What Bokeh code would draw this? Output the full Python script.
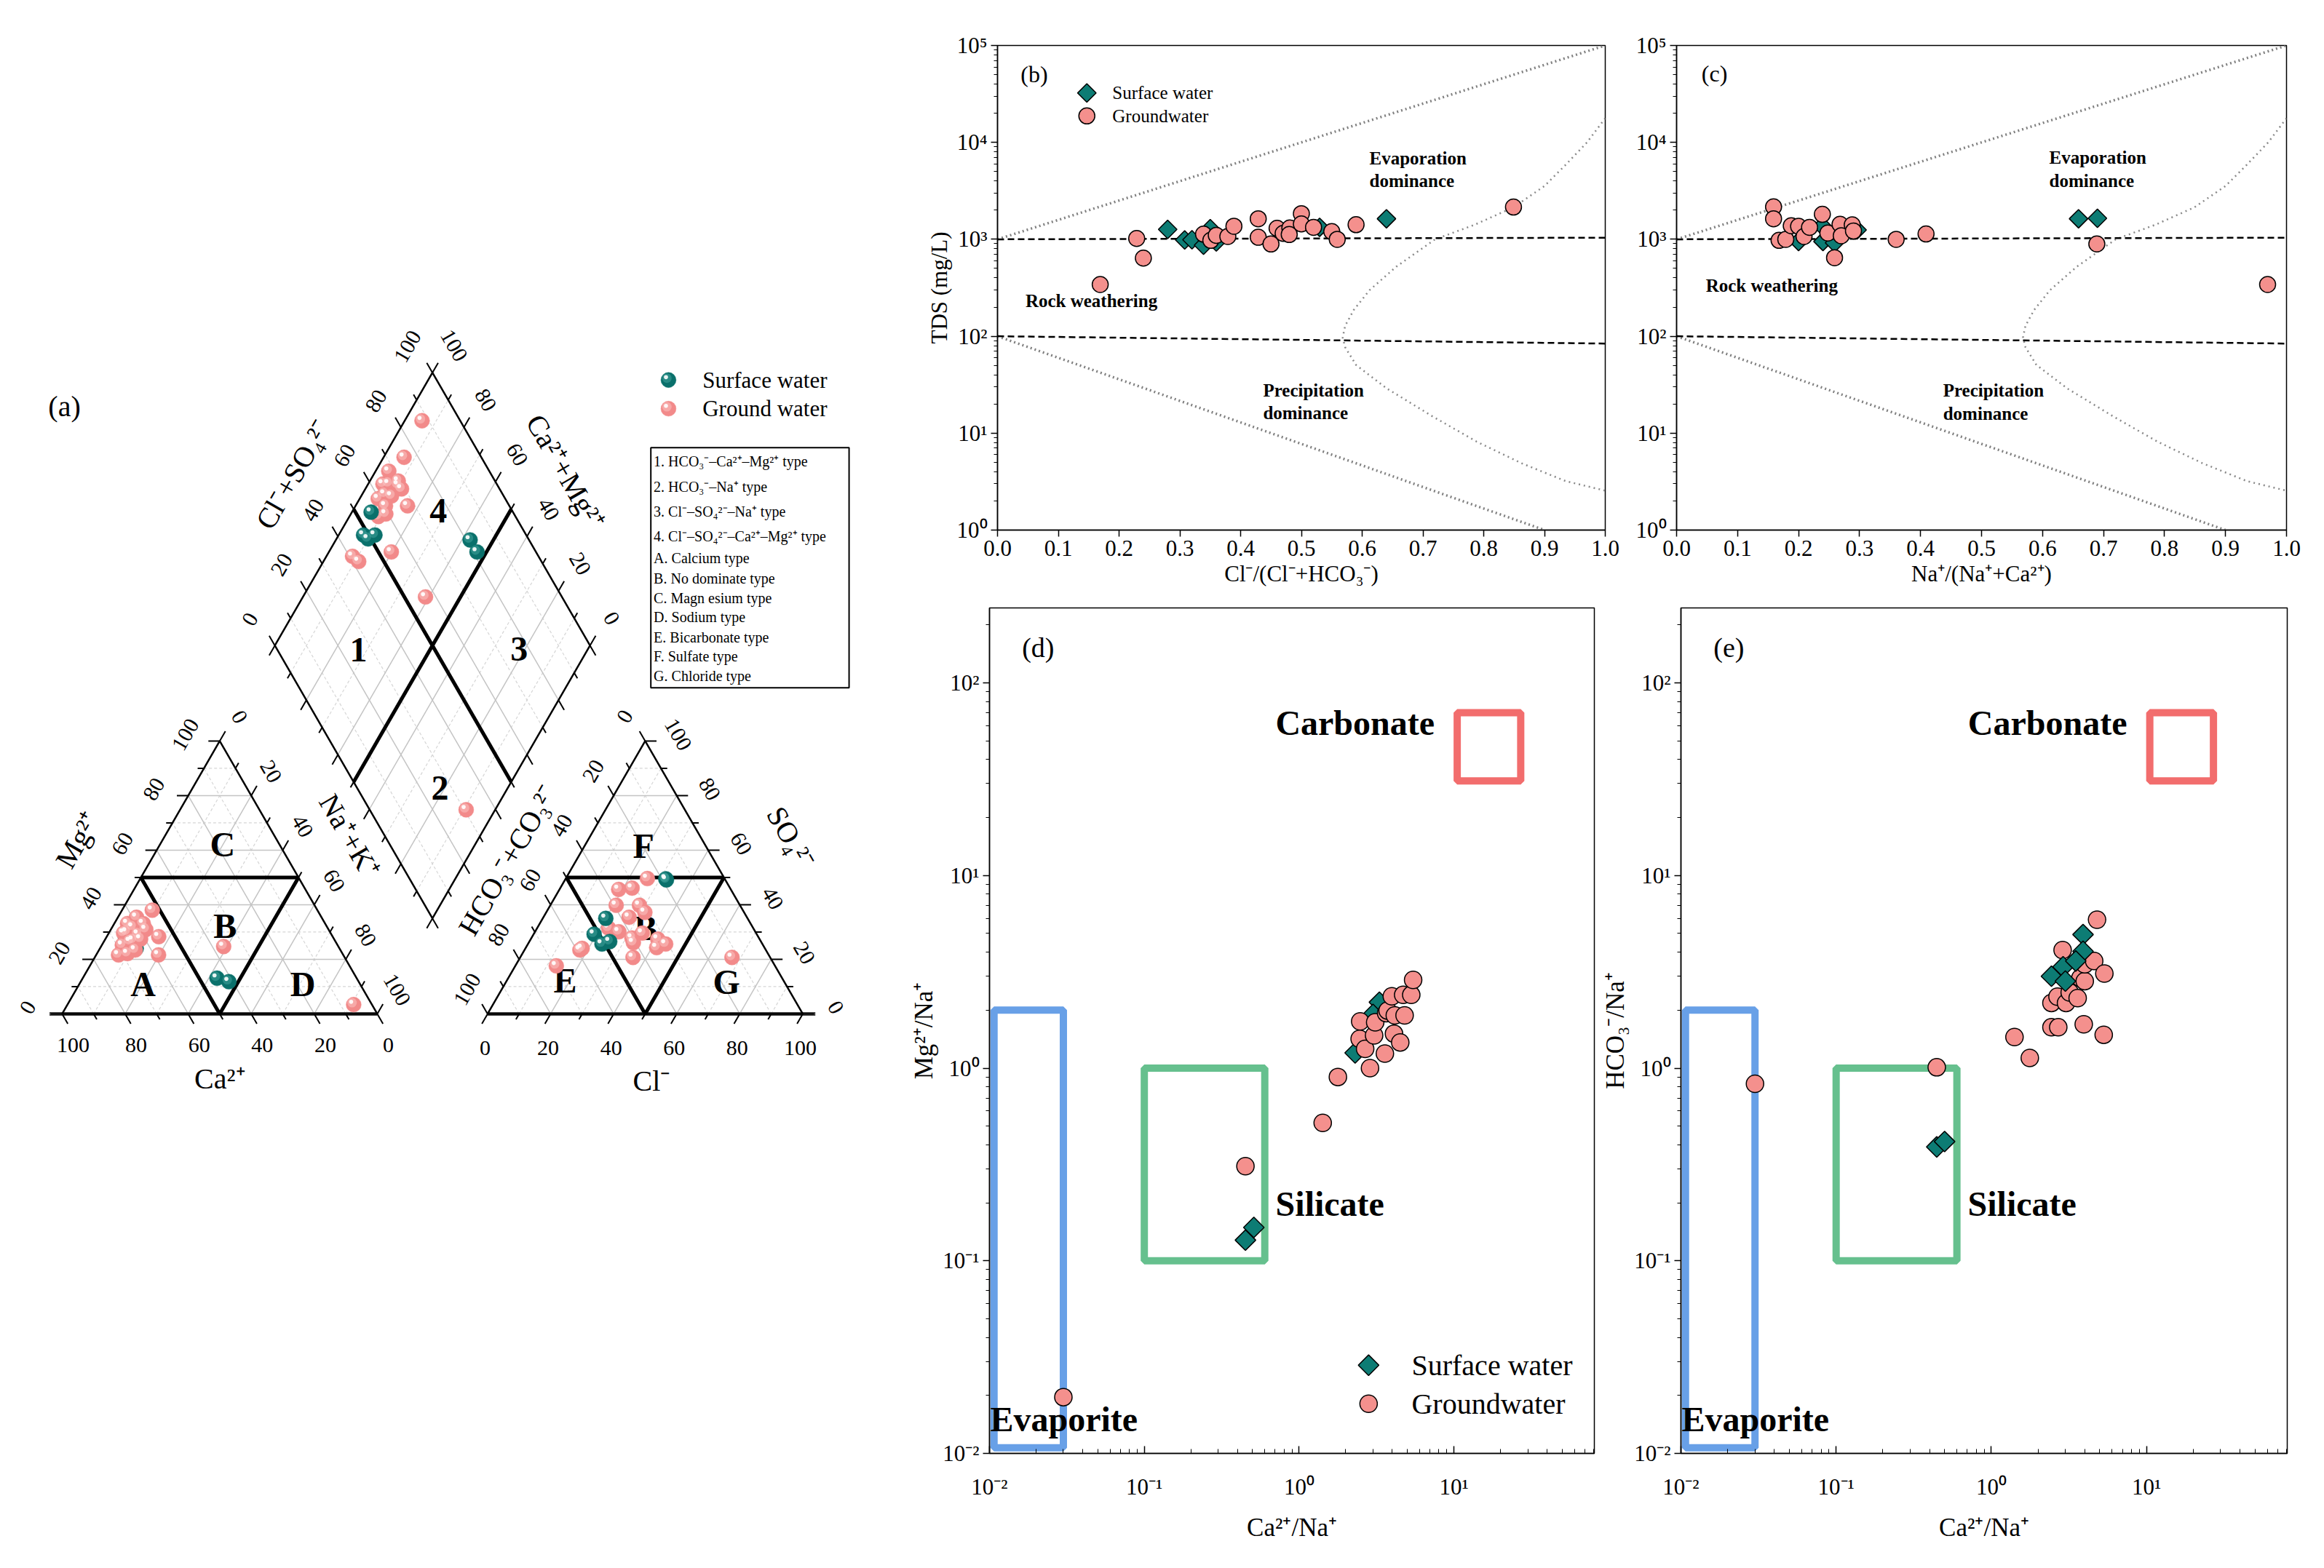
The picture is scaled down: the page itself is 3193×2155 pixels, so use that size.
import numpy as np
from bokeh.plotting import figure
from bokeh.layouts import row, column
from bokeh.models import Range1d, FixedTicker, CustomJSTickFormatter
from bokeh.core.properties import value
from bokeh.embed import file_html
from bokeh.resources import INLINE

FONT = "Liberation Serif"
TEAL = "#0D7C74"
SALMON = "#F4908D"
SPH_PINK, SPH_PINK_L = "#F28A8A", "#FCC8C6"
SPH_TEAL, SPH_TEAL_L = "#0A706B", "#46A6A0"

# ---------------- (a) Piper data, meq % ----------------
gw_mg = [30.0, 25.2, 33.1, 29.6, 31.8, 22.1, 23.4, 38.0, 21.6, 35.4, 29.2, 28.3, 33.1, 30.9, 21.6, 26.5, 27.4, 24.7, 3.4, 27.0]
gw_na = [5.5, 6.5, 4.2, 4.7, 6.5, 9.7, 11.5, 9.6, 7.1, 5.9, 9.5, 16.5, 9.2, 11.1, 19.8, 8.3, 11.2, 38.9, 90.8, 9.0]
gw_so4 = [20.7, 49.6, 39.8, 29.6, 24.3, 37.2, 46.1, 45.6, 35.4, 27.8, 39.8, 27.4, 20.7, 26.1, 31.4, 23.4, 24.0, 30.1, 17.6, 25.6]
gw_cl = [67.2, 25.9, 28.3, 34.3, 41.5, 31.3, 22.8, 18.8, 27.2, 31.9, 20.9, 40.3, 35.8, 33.2, 22.7, 17.6, 18.0, 26.6, 13.0, 43.7]
sw_mg = [25.0, 26.0, 24.0, 28.0, 13.1, 11.8]
sw_na = [7.9, 10.0, 11.5, 6.1, 42.6, 47.0]
sw_so4 = [29.2, 25.6, 26.5, 35.0, 49.1, 49.5]
sw_cl = [19.2, 23.5, 25.5, 20.0, 32.2, 31.8]

piper_types = ["1. HCO\u2083\u207b\u2013Ca\u00b2\u207a\u2013Mg\u00b2\u207a type",
               "2. HCO\u2083\u207b\u2013Na\u207a type",
               "3. Cl\u207b\u2013SO\u2084\u00b2\u207b\u2013Na\u207a type",
               "4. Cl\u207b\u2013SO\u2084\u00b2\u207b\u2013Ca\u00b2\u207a\u2013Mg\u00b2\u207a type",
               "A. Calcium type", "B. No dominate type", "C. Magn esium type",
               "D. Sodium type", "E. Bicarbonate type", "F. Sulfate type", "G. Chloride type"]

# ---------------- (b) Gibbs anion ----------------
b_gw_x = [0.169, 0.229, 0.240, 0.339, 0.351, 0.36, 0.379, 0.389, 0.429, 0.429, 0.45, 0.46, 0.47, 0.481, 0.48, 0.5, 0.5, 0.52, 0.55, 0.559, 0.59, 0.849]
b_gw_y = [342, 1020, 640, 1130, 975, 1100, 1070, 1365, 1630, 1050, 895, 1300, 1150, 1310, 1120, 1840, 1440, 1330, 1200, 1000, 1415, 2150]
b_sw_x = [0.28, 0.308, 0.32, 0.35, 0.339, 0.36, 0.53, 0.64]
b_sw_y = [1265, 985, 990, 1290, 870, 940, 1330, 1630]
# ---------------- (c) Gibbs cation ----------------
c_gw_x = [0.159, 0.159, 0.168, 0.179, 0.188, 0.2, 0.209, 0.218, 0.239, 0.248, 0.259, 0.268, 0.27, 0.288, 0.29, 0.36, 0.409, 0.689, 0.969]
c_gw_y = [2160, 1630, 975, 1000, 1380, 1360, 1070, 1330, 1810, 1160, 646, 1430, 1090, 1410, 1220, 1000, 1135, 897, 342]
c_sw_x = [0.2, 0.239, 0.24, 0.259, 0.296, 0.659, 0.69]
c_sw_y = [950, 1370, 950, 920, 1250, 1630, 1650]
# Gibbs reference lines
gibbs_x = [0.0, 1.0]
gibbs_up_y = [1000, 1e5]
gibbs_dn_x = [0.0, 0.9]
gibbs_dn_y = [100, 1]
h1000_y = [1000, 1040]
h100_y = [100, 84]
boom_x = [1.0, 0.97, 0.935, 0.90, 0.849, 0.785, 0.72, 0.656, 0.612, 0.586, 0.572, 0.568, 0.572, 0.59, 0.641, 0.715, 0.788, 0.862, 0.935, 1.0]
boom_y = [17783, 10000, 5888, 3548, 2138, 1413, 1000, 521, 298, 186, 128, 97, 77, 50.5, 28.8, 15, 8.2, 4.9, 3.2, 2.55]

# ---------------- (d) Mg/Na vs Ca/Na ----------------
d_gw_x = [0.030, 0.45, 1.42, 1.78, 2.48, 2.46, 2.87, 2.67, 3.05, 3.1, 3.58, 3.65, 3.73, 3.97, 4.1, 4.15, 4.5, 4.8, 4.7, 5.3, 5.45]
d_gw_y = [0.0196, 0.31, 0.52, 0.90, 1.75, 1.42, 1.0, 1.26, 1.48, 1.73, 1.19, 1.93, 1.99, 2.36, 1.51, 1.88, 1.36, 1.88, 2.4, 2.4, 2.87]
d_sw_x = [0.45, 0.51, 2.3, 3.3, 3.0]
d_sw_y = [0.128, 0.149, 1.2, 2.2, 1.9]
# ---------------- (e) HCO3/Na vs Ca/Na ----------------
e_gw_x = [0.030, 0.445, 1.41, 1.77, 2.44, 2.7, 3.94, 5.3, 2.44, 2.67, 3.03, 3.2, 3.6, 3.75, 4.0, 2.88, 4.0, 4.6, 5.35, 4.8]
e_gw_y = [0.83, 1.01, 1.45, 1.13, 1.63, 1.63, 1.69, 1.49, 2.18, 2.35, 2.18, 2.47, 2.31, 2.94, 2.83, 4.1, 3.46, 3.6, 3.1, 5.9]
e_sw_x = [0.445, 0.5, 2.44, 2.9, 3.9, 3.9, 3.0, 3.5]
e_sw_y = [0.39, 0.416, 3.0, 3.36, 4.94, 4.04, 2.83, 3.6]
# end-member boxes: left, right, bottom, top
box_names = ["Evaporite", "Silicate", "Carbonate"]
box_left = [0.0107, 0.1, 10.5]
box_right = [0.03, 0.6, 27.0]
box_bottom = [0.0107, 0.1, 31.0]
box_top = [2.0, 1.0, 70.0]
box_colors = ["#3D85E0", "#3BAE6E", "#EE4444"]

# ======================= Piper =======================
H = np.sqrt(3) / 2
G = 0.35
OX = 1 + G
BX, BY = 1 + G / 2, G * H


def cat_xy(mg, na):
    mg = np.asarray(mg, float) / 100
    na = np.asarray(na, float) / 100
    return na + mg / 2, mg * H


def an_xy(so4, cl):
    so4 = np.asarray(so4, float) / 100
    cl = np.asarray(cl, float) / 100
    return OX + cl + so4 / 2, so4 * H


def dia_xy(a, c):
    a = np.asarray(a, float)
    c = np.asarray(c, float)
    return BX + 0.5 * (a - c), BY + H * (a + c)


PX = 433.0
pa = figure(width=1239, height=2138, x_range=Range1d(-0.196, -0.196 + 1239 / PX),
            y_range=Range1d(3.217 - 2138 / PX, 3.217), output_backend="svg",
            toolbar_location=None, x_axis_location=None, y_axis_location=None,
            min_border=0, outline_line_color=None)
pa.grid.visible = False

ts = [k / 10 for k in range(1, 10)]
maj_x, maj_y, min_x, min_y = [], [], [], []


def add_seg(xs, ys, t):
    if round(t * 10) % 2 == 0:
        maj_x.append(list(xs)); maj_y.append(list(ys))
    else:
        min_x.append(list(xs)); min_y.append(list(ys))


for ox in (0.0, OX):
    for t in ts:
        add_seg((ox + t / 2, ox + 1 - t / 2), (t * H, t * H), t)
        add_seg((ox + t, ox + 0.5 + 0.5 * t), (0, H * (1 - t)), t)
        add_seg((ox + 1 - t, ox + (1 - t) / 2), (0, (1 - t) * H), t)
for t in ts:
    x0, y0 = dia_xy(t, 0); x1, y1 = dia_xy(t, 1)
    add_seg((x0, x1), (y0, y1), t)
    x0, y0 = dia_xy(0, t); x1, y1 = dia_xy(1, t)
    add_seg((x0, x1), (y0, y1), t)

pa.multi_line(min_x, min_y, line_color="#d6d6d6", line_width=1.2, line_dash="4 3")
pa.multi_line(maj_x, maj_y, line_color="#c4c4c4", line_width=1.5)

# base axis lines
pa.line([-0.04, 1.0], [0, 0], line_color="#444444", line_width=5)
pa.line([OX, OX + 1.04], [0, 0], line_color="#444444", line_width=5)

# outlines
dx_, dy_ = dia_xy([0, 1, 1, 0, 0], [0, 0, 1, 1, 0])
pa.multi_line([[0, 1, 0.5, 0], [OX, OX + 1, OX + 0.5, OX], list(dx_)],
              [[0, 0, H, 0], [0, 0, H, 0], list(dy_)], line_color="black", line_width=2.5)

# dividers
div_x, div_y = [], []
for ox in (0.0, OX):
    div_x += [[ox + 0.25, ox + 0.75], [ox + 0.25, ox + 0.5, ox + 0.75]]
    div_y += [[H / 2, H / 2], [H / 2, 0, H / 2]]
for (a0, c0, a1, c1) in [(0.5, 0, 0.5, 1), (0, 0.5, 1, 0.5)]:
    xa, ya = dia_xy([a0, a1], [c0, c1])
    div_x.append(list(xa)); div_y.append(list(ya))
pa.multi_line(div_x, div_y, line_color="black", line_width=5)

# ticks
tick_x, tick_y = [], []
tall = [k / 10 for k in range(0, 11)]


def add_ticks(pts, d):
    for (px, py), t in zip(pts, tall):
        L = 0.036 if round(t * 10) % 2 == 0 else 0.02
        tick_x.append([px, px + L * d[0]]); tick_y.append([py, py + L * d[1]])


add_ticks([(t, 0) for t in tall], (0.5, -H))
add_ticks([(t / 2, t * H) for t in tall], (-1, 0))
add_ticks([(0.5 + 0.5 * t, H * (1 - t)) for t in tall], (0.5, H))
add_ticks([(OX + t, 0) for t in tall], (-0.5, -H))
add_ticks([(OX + 1 - t / 2, t * H) for t in tall], (1, 0))
add_ticks([(OX + (1 - t) / 2, (1 - t) * H) for t in tall], (-0.5, H))
add_ticks([tuple(dia_xy(t, 1)) for t in tall], (-0.5, H))
add_ticks([tuple(dia_xy(1, t)) for t in tall], (0.5, H))
add_ticks([tuple(dia_xy(0, t)) for t in tall], (-0.5, -H))
add_ticks([tuple(dia_xy(t, 0)) for t in tall], (0.5, -H))
pa.multi_line(tick_x, tick_y, line_color="black", line_width=2)

# tick labels
tmaj = [k / 5 for k in range(0, 6)]
lab0 = dict(x=[], y=[], t=[])
labp = dict(x=[], y=[], t=[])
labm = dict(x=[], y=[], t=[])
for t in tmaj:
    v = str(int(round(100 * t)))
    vi = str(int(round(100 * (1 - t))))
    lab0["x"] += [t + 0.035, OX + t - 0.008]
    lab0["y"] += [-0.100, -0.108]
    lab0["t"] += [vi, v]
    xa, ya = dia_xy(t, 1)
    labp["x"] += [t / 2 - 0.108, OX + (1 - t) / 2 - 0.064, float(xa) - 0.078]
    labp["y"] += [t * H + 0.02, (1 - t) * H + 0.078, float(ya) + 0.083]
    labp["t"] += [v, v, v]
    xb, yb = dia_xy(1, t)
    labm["x"] += [0.5 + 0.5 * t + 0.062, OX + 1 - t / 2 + 0.104, float(xb) + 0.068]
    labm["y"] += [H * (1 - t) + 0.076, t * H + 0.02, float(yb) + 0.086]
    labm["t"] += [v, v, v]
common = dict(text_font=value(FONT), text_font_size="30px", text_align="center",
              text_baseline="middle", text_color="black")
pa.text(x=lab0["x"], y=lab0["y"], text=lab0["t"], **common)
pa.text(x=labp["x"], y=labp["y"], text=labp["t"], angle=np.pi / 3, **common)
pa.text(x=labm["x"], y=labm["y"], text=labm["t"], angle=-np.pi / 3, **common)

# axis titles
tc = dict(text_font=value(FONT), text_font_size="40px", text_align="center",
          text_baseline="middle", text_color="black")
pa.text(x=[0.501, 1.871], y=[-0.205, -0.212], text=["Ca\u00b2\u207a", "Cl\u207b"], **tc)
pa.text(x=[0.050, 1.414, 0.734], y=[0.552, 0.488, 1.712],
        text=["Mg\u00b2\u207a", "HCO\u2083\u207b+CO\u2083\u00b2\u207b", "Cl\u207b+SO\u2084\u00b2\u207b"],
        angle=np.pi / 3, **tc)
pa.text(x=[0.912, 2.312, 1.597], y=[0.564, 0.559, 1.72],
        text=["Na\u207a+K\u207a", "SO\u2084\u00b2\u207b", "Ca\u00b2\u207a+Mg\u00b2\u207a"],
        angle=-np.pi / 3, **tc)

# region labels
rl = dict(text_font=value(FONT), text_font_size="48px", text_font_style="bold",
          text_align="center", text_baseline="middle", text_color="black")
pa.text(x=[0.509, 0.517, 0.257, 0.764, OX + 0.495, OX + 0.502, OX + 0.246, OX + 0.758,
           0.94, 1.199, 1.45, 1.194],
        y=[0.537, 0.279, 0.095, 0.095, 0.533, 0.272, 0.106, 0.102, 1.155, 0.716, 1.157, 1.596],
        text=["C", "B", "A", "D", "F", "B", "E", "G", "1", "2", "3", "4"], **rl)


def sphere(p, x, y, base, light):
    x = np.asarray(x, float); y = np.asarray(y, float)
    p.circle(x=x, y=y, radius=0.024, fill_color=base, line_color=base, line_width=0.5)
    p.circle(x=x - 0.005, y=y + 0.006, radius=0.015, fill_color=light, fill_alpha=0.5, line_color=None)
    p.circle(x=x - 0.008, y=y + 0.009, radius=0.0065, fill_color="white", fill_alpha=0.9, line_color=None)


def piper_xy(mg, na, so4, cl):
    cx, cy = cat_xy(mg, na)
    ax_, ay_ = an_xy(so4, cl)
    a = (np.asarray(so4) + np.asarray(cl)) / 100
    c = 1 - np.asarray(na) / 100
    qx, qy = dia_xy(a, c)
    return (cx, cy), (np.concatenate([ax_, qx]), np.concatenate([ay_, qy]))


(gcx, gcy), (gox, goy) = piper_xy(gw_mg, gw_na, gw_so4, gw_cl)
(scx, scy), (sox, soy) = piper_xy(sw_mg, sw_na, sw_so4, sw_cl)
sphere(pa, scx, scy, SPH_TEAL, SPH_TEAL_L)
sphere(pa, np.concatenate([gcx, gox]), np.concatenate([gcy, goy]), SPH_PINK, SPH_PINK_L)
sphere(pa, sox, soy, SPH_TEAL, SPH_TEAL_L)

# legend of (a)
sphere(pa, [1.924], [2.012], SPH_TEAL, SPH_TEAL_L)
sphere(pa, [1.924], [1.921], SPH_PINK, SPH_PINK_L)
pa.text(x=[2.032, 2.032], y=[2.012, 1.921], text=["Surface water", "Ground water"],
        text_font=value(FONT), text_font_size="31px", text_baseline="middle", text_color="black")
pa.text(x=[-0.044], y=[1.928], text=["(a)"], text_font=value(FONT), text_font_size="40px",
        text_baseline="middle", text_color="black")
pa.quad(left=[1.868], right=[2.497], bottom=[1.035], top=[1.797], fill_color=None,
        line_color="black", line_width=2)
type_y = [1.753, 1.672, 1.594, 1.515, 1.446, 1.381, 1.319, 1.259, 1.194, 1.134, 1.072]
pa.text(x=[1.877] * len(piper_types), y=type_y, text=piper_types, text_font=value(FONT),
        text_font_size="20px", text_baseline="middle", text_color="black")

# ======================= helpers =======================
SUPJS = """
const s = {'-':'\u207b','0':'\u2070','1':'\u00b9','2':'\u00b2','3':'\u00b3','4':'\u2074','5':'\u2075','6':'\u2076','7':'\u2077','8':'\u2078','9':'\u2079'};
const e = Math.round(Math.log10(tick));
return '10' + String(e).split('').map(c => s[c]).join('');
"""


def minor_log(k0, k1, vmax):
    return [m * 10.0 ** k for k in range(k0, k1) for m in range(2, 10) if m * 10.0 ** k <= vmax]


def style(p, tick_size, label_size):
    p.grid.visible = False
    p.outline_line_color = "black"
    p.outline_line_width = 1.5
    for ax in p.axis:
        ax.axis_line_color = "black"
        ax.axis_line_width = 1.5
        ax.major_tick_line_color = "black"
        ax.major_tick_line_width = 1.5
        ax.minor_tick_line_color = "black"
        ax.major_label_text_font = FONT
        ax.major_label_text_font_size = tick_size
        ax.major_label_text_color = "black"
        ax.axis_label_text_font = FONT
        ax.axis_label_text_font_size = label_size
        ax.axis_label_text_font_style = "normal"
        ax.axis_label_text_color = "black"


def gibbs(width, bl, br, gx, gy, sx, sy, xlabel, ylabel, tag, tagpos, texts, legend):
    p = figure(width=width, height=822, x_range=Range1d(0, 1), y_range=Range1d(1, 1e5),
               y_axis_type="log", output_backend="svg", toolbar_location=None,
               min_border_left=bl, min_border_right=br, min_border_top=62, min_border_bottom=94)
    style(p, "31px", "31px")
    p.xaxis.ticker = FixedTicker(ticks=[k / 10 for k in range(11)], minor_ticks=[])
    p.xaxis.formatter = CustomJSTickFormatter(code="return tick.toFixed(1);")
    p.yaxis.ticker = FixedTicker(ticks=[1, 10, 100, 1000, 1e4, 1e5], minor_ticks=minor_log(0, 5, 1e5))
    p.yaxis.formatter = CustomJSTickFormatter(code=SUPJS)
    for ax in p.axis:
        ax.major_tick_in = 0
        ax.major_tick_out = 9
        ax.minor_tick_in = 0
        ax.minor_tick_out = 5
        ax.major_label_standoff = 5
        ax.axis_label_standoff = 4
    p.xaxis.axis_label = xlabel
    p.yaxis.axis_label = ylabel
    p.line(gibbs_x, gibbs_up_y, line_color="#808080", line_width=3.5, line_dash="2 4")
    p.line(gibbs_dn_x, gibbs_dn_y, line_color="#808080", line_width=3.5, line_dash="2 4")
    p.line(boom_x, boom_y, line_color="#8a8a8a", line_width=2.5, line_dash="2 5")
    p.line(gibbs_x, h1000_y, line_color="black", line_width=2.5, line_dash="9 5")
    p.line(gibbs_x, h100_y, line_color="black", line_width=2.5, line_dash="9 5")
    p.scatter(sx, sy, marker="square", angle=np.pi / 4, size=18, fill_color=TEAL,
              line_color="black", line_width=1.5)
    p.scatter(gx, gy, marker="circle", size=22, fill_color=SALMON, line_color="black", line_width=1.5)
    tx, ty, tt = texts
    p.text(x=tx, y=ty, text=tt, text_font=value(FONT), text_font_size="25px",
           text_font_style="bold", text_baseline="middle", text_color="black")
    p.text(x=[tagpos[0]], y=[tagpos[1]], text=[tag], text_font=value(FONT), text_font_size="32px",
           text_baseline="middle", text_color="black")
    if legend:
        p.scatter([0.147], [10 ** 4.51], marker="square", angle=np.pi / 4, size=18, fill_color=TEAL,
                  line_color="black", line_width=1.5)
        p.scatter([0.147], [10 ** 4.273], marker="circle", size=22, fill_color=SALMON,
                  line_color="black", line_width=1.5)
        p.text(x=[0.189, 0.189], y=[10 ** 4.51, 10 ** 4.273], text=["Surface water", "Groundwater"],
               text_font=value(FONT), text_font_size="25px", text_baseline="middle", text_color="black")
    return p


pb = gibbs(992, 131, 26, b_gw_x, b_gw_y, b_sw_x, b_sw_y,
           "Cl\u207b/(Cl\u207b+HCO\u2083\u207b)", "TDS (mg/L)", "(b)", (0.038, 10 ** 4.70),
           ([0.612, 0.612, 0.046, 0.437, 0.437],
            [10 ** 3.84, 10 ** 3.60, 10 ** 2.365, 10 ** 1.443, 10 ** 1.206],
            ["Evaporation", "dominance", "Rock weathering", "Precipitation", "dominance"]), True)
pc = gibbs(945, 72, 35, c_gw_x, c_gw_y, c_sw_x, c_sw_y,
           "Na\u207a/(Na\u207a+Ca\u00b2\u207a)", None, "(c)", (0.041, 10 ** 4.71),
           ([0.611, 0.611, 0.048, 0.437, 0.437],
            [10 ** 3.843, 10 ** 3.607, 10 ** 2.523, 10 ** 1.441, 10 ** 1.20],
            ["Evaporation", "dominance", "Rock weathering", "Precipitation", "dominance"]), False)


def ratio(width, bl, br, gx, gy, sx, sy, ylabel, tag, legend, sw_top):
    p = figure(width=width, height=1316, x_range=Range1d(0.01, 80.7), y_range=Range1d(0.01, 245),
               x_axis_type="log", y_axis_type="log", output_backend="svg", toolbar_location=None,
               min_border_left=bl, min_border_right=br, min_border_top=13, min_border_bottom=141)
    style(p, "31px", "35px")
    p.xaxis.ticker = FixedTicker(ticks=[0.01, 0.1, 1, 10], minor_ticks=minor_log(-2, 2, 80))
    p.yaxis.ticker = FixedTicker(ticks=[0.01, 0.1, 1, 10, 100], minor_ticks=minor_log(-2, 3, 245))
    p.xaxis.formatter = CustomJSTickFormatter(code=SUPJS)
    p.yaxis.formatter = CustomJSTickFormatter(code=SUPJS)
    p.xaxis.major_tick_in = 10
    p.xaxis.major_tick_out = 0
    p.xaxis.minor_tick_in = 6
    p.xaxis.minor_tick_out = 0
    p.xaxis.major_label_standoff = 28
    p.xaxis.axis_label_standoff = 16
    p.yaxis.major_tick_in = 0
    p.yaxis.major_tick_out = 9
    p.yaxis.minor_tick_in = 0
    p.yaxis.minor_tick_out = 5
    p.yaxis.major_label_standoff = 5
    p.yaxis.axis_label_standoff = 3
    p.xaxis.axis_label = "Ca\u00b2\u207a/Na\u207a"
    p.yaxis.axis_label = ylabel
    p.quad(left=box_left, right=box_right, bottom=box_bottom, top=box_top, fill_color=None,
           line_color=box_colors, line_alpha=0.78, line_width=10)

    def sw():
        p.scatter(sx, sy, marker="square", angle=np.pi / 4, size=20, fill_color=TEAL,
                  line_color="black", line_width=1.5)

    if not sw_top:
        sw()
    p.scatter(gx, gy, marker="circle", size=24, fill_color=SALMON, line_color="black", line_width=1.5)
    if sw_top:
        sw()
    bt = dict(text_font=value(FONT), text_font_size="48px", text_font_style="bold",
              text_baseline="middle", text_color="black")
    p.text(x=[7.5], y=[62], text=["Carbonate"], text_align="right", **bt)
    p.text(x=[0.705, 0.0101], y=[0.197, 0.0151], text=["Silicate", "Evaporite"], text_align="left", **bt)
    p.text(x=[10 ** -1.79], y=[10 ** 2.182], text=[tag], text_font=value(FONT), text_font_size="38px",
           text_baseline="middle", text_color="black")
    if legend:
        p.scatter([2.81], [0.0287], marker="square", angle=np.pi / 4, size=20, fill_color=TEAL,
                  line_color="black", line_width=1.5)
        p.scatter([2.81], [0.0181], marker="circle", size=24, fill_color=SALMON,
                  line_color="black", line_width=1.5)
        p.text(x=[5.33, 5.33], y=[0.0287, 0.0181], text=["Surface water", "Groundwater"],
               text_font=value(FONT), text_font_size="40px", text_baseline="middle", text_color="black")
    return p


pd_ = ratio(958, 120, 7, d_gw_x, d_gw_y, d_sw_x, d_sw_y, "Mg\u00b2\u207a/Na\u207a", "(d)", True, False)
pe = ratio(979, 104, 34, e_gw_x, e_gw_y, e_sw_x, e_sw_y, "HCO\u2083\u207b/Na\u207a", "(e)", False, True)

layout = row(pa, column(row(pb, pc), row(pd_, pe)))
open("out.html", "w", encoding="utf-8").write(file_html(layout, INLINE))
